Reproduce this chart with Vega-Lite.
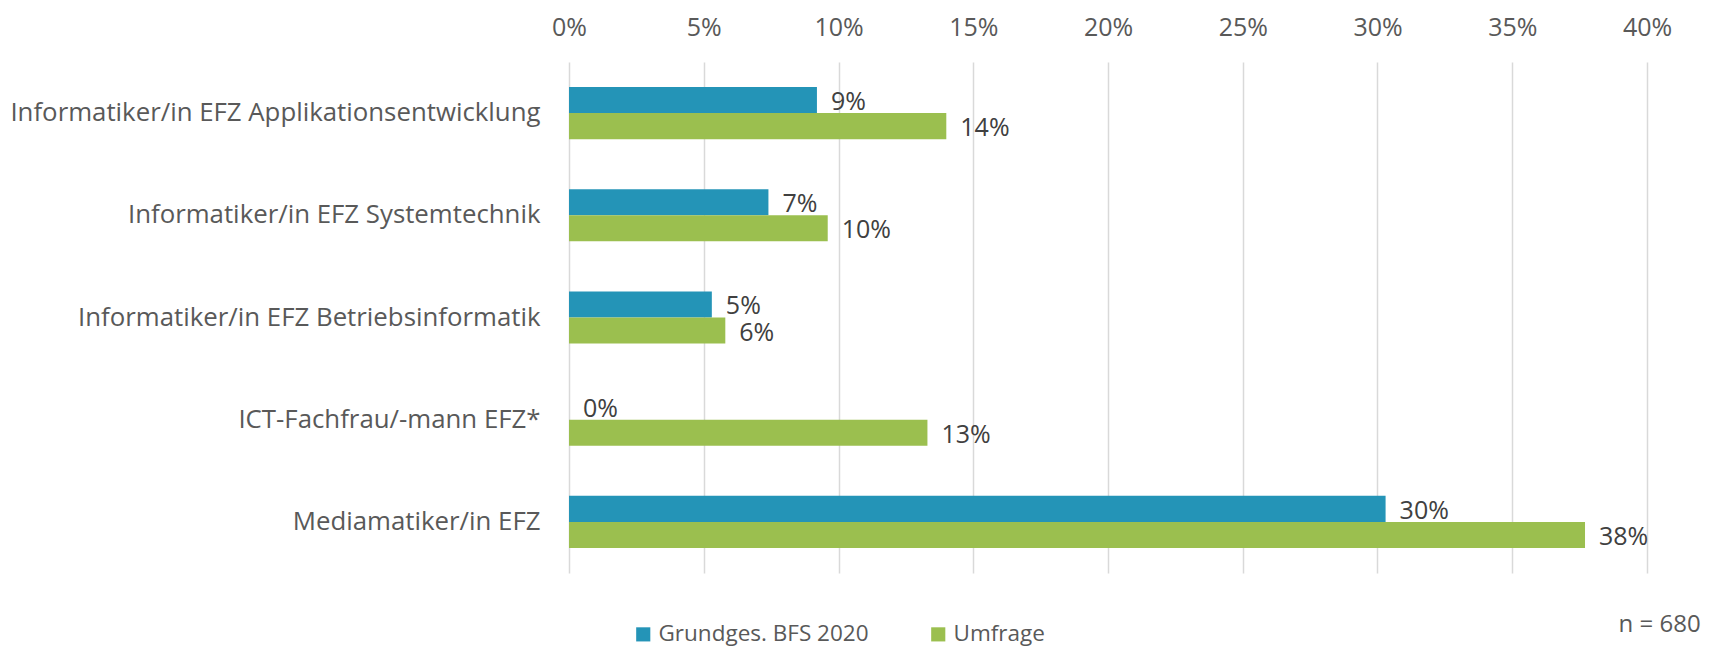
{
  "$schema": "https://vega.github.io/schema/vega-lite/v6.json",
  "width": 1078,
  "height": 511,
  "autosize": {"type": "none"},
  "padding": {"left": 569, "top": 62, "right": 68, "bottom": 74},
  "background": "white",
  "view": {"stroke": null},
  "title": {"text": "n = 680", "orient": "bottom", "anchor": "end", "offset": -33, "dx": 29, "font": "Open Sans", "fontSize": 24, "fontWeight": "normal", "color": "#595959"},
  "data": {"values": [
    {"beruf": "Informatiker/in EFZ Applikationsentwicklung", "serie": "Grundges. BFS 2020", "wert": 0.092},
    {"beruf": "Informatiker/in EFZ Applikationsentwicklung", "serie": "Umfrage", "wert": 0.140},
    {"beruf": "Informatiker/in EFZ Systemtechnik", "serie": "Grundges. BFS 2020", "wert": 0.074},
    {"beruf": "Informatiker/in EFZ Systemtechnik", "serie": "Umfrage", "wert": 0.096},
    {"beruf": "Informatiker/in EFZ Betriebsinformatik", "serie": "Grundges. BFS 2020", "wert": 0.053},
    {"beruf": "Informatiker/in EFZ Betriebsinformatik", "serie": "Umfrage", "wert": 0.058},
    {"beruf": "ICT-Fachfrau/-mann EFZ*", "serie": "Grundges. BFS 2020", "wert": 0.0},
    {"beruf": "ICT-Fachfrau/-mann EFZ*", "serie": "Umfrage", "wert": 0.133},
    {"beruf": "Mediamatiker/in EFZ", "serie": "Grundges. BFS 2020", "wert": 0.303},
    {"beruf": "Mediamatiker/in EFZ", "serie": "Umfrage", "wert": 0.377}
  ]},
  "encoding": {
    "y": {"field": "beruf", "type": "nominal", "sort": null,
      "scale": {"paddingInner": 0.49, "paddingOuter": 0.245},
      "axis": {"title": null, "domain": false, "ticks": false, "labelPadding": 29, "labelFont": "Open Sans", "labelFontSize": 25.8, "labelColor": "#595959", "labelLimit": 700}},
    "yOffset": {"field": "serie", "type": "nominal", "sort": ["Grundges. BFS 2020", "Umfrage"]},
    "x": {"field": "wert", "type": "quantitative",
      "scale": {"domain": [0, 0.4], "nice": false},
      "axis": {"orient": "top", "title": null, "format": ".0%", "values": [0, 0.05, 0.1, 0.15, 0.2, 0.25, 0.3, 0.35, 0.4], "labelOverlap": false, "labelBound": false, "labelFlush": false, "domain": false, "ticks": false, "labelPadding": 22, "labelFont": "Open Sans", "labelFontSize": 25, "labelColor": "#595959", "grid": true, "gridColor": "#D9D9D9", "gridWidth": 1.5}}
  },
  "layer": [
    {
      "mark": {"type": "bar"},
      "encoding": {
        "color": {"field": "serie", "type": "nominal",
          "scale": {"domain": ["Grundges. BFS 2020", "Umfrage"], "range": ["#2494B7", "#9BBF4F"]},
          "legend": {"title": null, "orient": "none", "legendX": 63, "legendY": 561, "direction": "horizontal", "symbolType": "square", "symbolSize": 200, "symbolStrokeWidth": 0, "labelFont": "Open Sans", "labelFontSize": 22.5, "labelColor": "#595959", "labelLimit": 400, "columnPadding": 58, "labelOffset": 4}}
      }
    },
    {
      "mark": {"type": "text", "align": "left", "baseline": "middle", "dx": 14, "dy": 2, "font": "Open Sans", "fontSize": 25, "color": "#404040"},
      "encoding": {"text": {"field": "wert", "type": "quantitative", "format": ".0%"}}
    }
  ]
}
